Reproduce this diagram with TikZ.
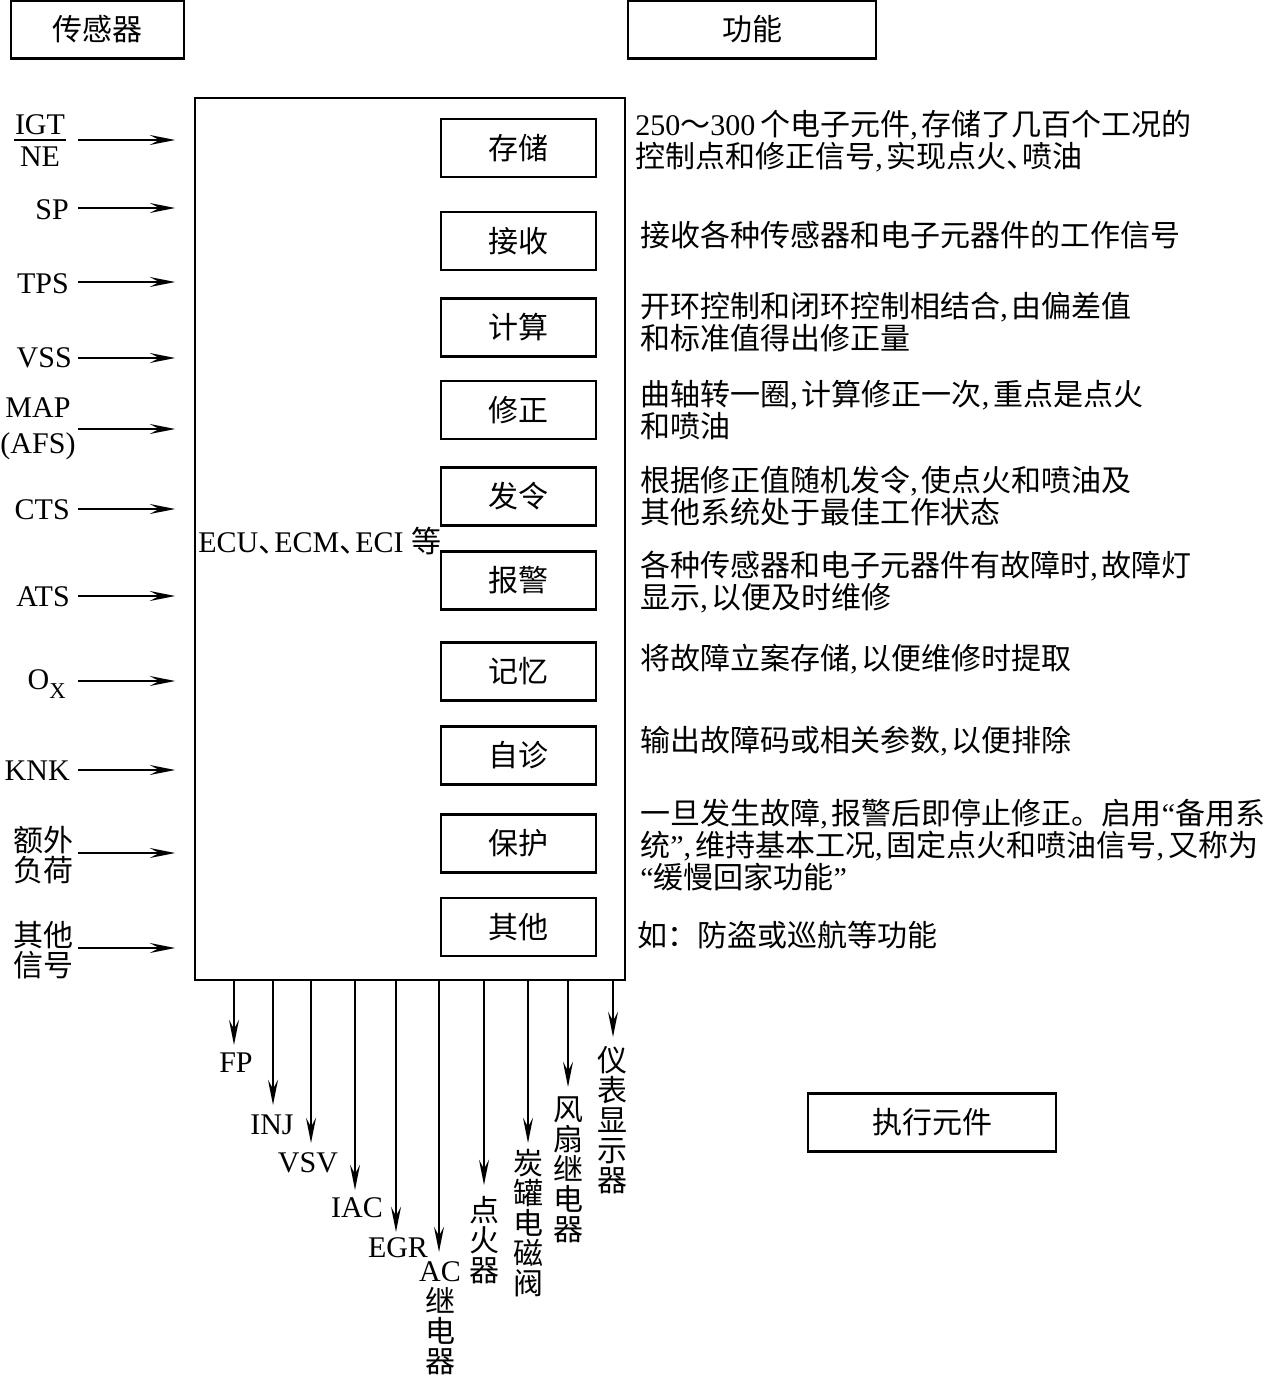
\documentclass[tikz,border=0pt]{standalone}
\usepackage{fontspec}
\setmainfont{Liberation Serif}
\newfontfamily\cjk{Noto Sans CJK SC}
\usetikzlibrary{arrows.meta}
\newcommand\zh[1]{{\cjk #1}}
\newcommand\cm{{\rmfamily,}\hspace{3pt}}
\newcommand\dun{\makebox[12pt][l]{\zh{、}}}
\begin{document}
\begin{tikzpicture}[x=0.75pt,y=-0.75pt,
  every node/.style={font=\fontsize{22.5}{24}\selectfont, inner sep=0pt},
  fbox/.style={draw, line width=1.6pt, minimum width=116.25pt, minimum height=43.5pt},
  hbox/.style={draw, line width=1.6pt, minimum height=43.5pt},
  arr/.style={line width=1.3pt, -{Stealth[length=19pt,width=7.5pt,inset=7pt]}},
  txt/.style={anchor=west, align=left},
  vtxt/.style={align=center, font=\fontsize{22.5}{22.5}\selectfont\cjk}]
\useasboundingbox (0,0) rectangle (1280,1376);
\fill[white] (0,0) rectangle (1280,1376);
% header boxes
\node[hbox, minimum width=129.75pt] (hsens) at (97.5,29.5) {\zh{传感器}};
\node[hbox, minimum width=186pt] (hfunc) at (752,29.5) {\zh{功能}};
\node[hbox, minimum width=186pt] (hact) at (932,1122.5) {\zh{执行元件}};
% ECU box
\node[draw, line width=1.8pt, minimum width=322.5pt, minimum height=661.5pt] (ecu) at (410,539) {};
\node[anchor=west] (ecutxt) at (198,541) {ECU\dun ECM\dun ECI \zh{等}};
% function boxes
\node[fbox] (f1) at (518.5,148) {\zh{存储}};
\node[fbox] (f2) at (518.5,241) {\zh{接收}};
\node[fbox] (f3) at (518.5,327.5) {\zh{计算}};
\node[fbox] (f4) at (518.5,410) {\zh{修正}};
\node[fbox] (f5) at (518.5,496.5) {\zh{发令}};
\node[fbox] (f6) at (518.5,580.5) {\zh{报警}};
\node[fbox] (f7) at (518.5,671.5) {\zh{记忆}};
\node[fbox] (f8) at (518.5,755.5) {\zh{自诊}};
\node[fbox] (f9) at (518.5,843.5) {\zh{保护}};
\node[fbox] (f10) at (518.5,927) {\zh{其他}};
% descriptions
\node[txt] (d1) at (635,141) {250\zh{～}300\,\zh{个电子元件}\cm\zh{存储了几百个工况的}\\\zh{控制点和修正信号}\cm\zh{实现点火}\dun\zh{喷油}};
\node[txt] (d2) at (640,235) {\zh{接收各种传感器和电子元器件的工作信号}};
\node[txt] (d3) at (640,322) {\zh{开环控制和闭环控制相结合}\cm\zh{由偏差值}\\\zh{和标准值得出修正量}};
\node[txt] (d4) at (640,410) {\zh{曲轴转一圈}\cm\zh{计算修正一次}\cm\zh{重点是点火}\\\zh{和喷油}};
\node[txt] (d5) at (640,496) {\zh{根据修正值随机发令}\cm\zh{使点火和喷油及}\\\zh{其他系统处于最佳工作状态}};
\node[txt] (d6) at (640,582) {\zh{各种传感器和电子元器件有故障时}\cm\zh{故障灯}\\\zh{显示}\cm\zh{以便及时维修}};
\node[txt] (d7) at (640,659) {\zh{将故障立案存储}\cm\zh{以便维修时提取}};
\node[txt] (d8) at (640,741) {\zh{输出故障码或相关参数}\cm\zh{以便排除}};
\node[txt] (d9) at (640,845) {\zh{一旦发生故障}\cm\zh{报警后即停止修正。启用}“\zh{备用系}\\\zh{统}”\cm\zh{维持基本工况}\cm\zh{固定点火和喷油信号}\cm\zh{又称为}\\“\zh{缓慢回家功能}”};
\node[txt] (d10) at (637,935) {\zh{如：防盗或巡航等功能}};
% sensor labels
\node (igt) at (40,125) {IGT};
\node (ne) at (40,157) {NE};
\draw[line width=1.2pt] (14,140) -- (66,140);
\node[anchor=east] (sp) at (69,210) {SP};
\node[anchor=east] (tps) at (69,284) {TPS};
\node[anchor=east] (vss) at (72,358) {VSS};
\node[align=center, font=\fontsize{22.5}{27}\selectfont] (map) at (38,429) {MAP\\(AFS)};
\node[anchor=east] (cts) at (70,510) {CTS};
\node[anchor=east] (ats) at (70,597) {ATS};
\node[anchor=east] (ox) at (66,684) {O\raisebox{-0.3em}{\fontsize{17}{17}\selectfont X}};
\node[anchor=east] (knk) at (70,771) {KNK};
\node[align=center, font=\fontsize{22.5}{22.5}\selectfont\cjk] (ew) at (43,855) {额外\\负荷};
\node[align=center, font=\fontsize{22.5}{22.5}\selectfont\cjk] (qt) at (43,950) {其他\\信号};
% input arrows
\foreach \y in {140,208,282,358,429,509,596,681,770,853,948}{
  \draw[arr] (78,\y) -- ([xshift=-14pt]ecu.west |- 0,\y);
}
% output arrows
\coordinate (o1) at (234,1045);
\coordinate (o2) at (273,1105);
\coordinate (o3) at (311,1143);
\coordinate (o4) at (355,1190);
\coordinate (o5) at (396,1232);
\coordinate (o6) at (439,1252);
\coordinate (o7) at (484,1185);
\coordinate (o8) at (528,1143);
\coordinate (o9) at (568,1087);
\coordinate (o10) at (613,1037);
\foreach \i in {1,...,10}{
  \draw[arr] (ecu.south -| o\i) -- (o\i);
}
% output labels
\node (fp) at (236,1063) {FP};
\node (inj) at (272,1125) {INJ};
\node (vsv) at (308,1163) {VSV};
\node (iac) at (357,1208) {IAC};
\node (egr) at (398,1248) {EGR};
\node (acl) at (440,1272) {AC};
\node[vtxt, anchor=north] (acz) at (440,1287) {继\\电\\器};
\node[vtxt] (dhq) at (484,1240) {点\\火\\器};
\node[vtxt] (tg) at (528,1223) {炭\\罐\\电\\磁\\阀};
\node[vtxt] (fs) at (568,1170) {风\\扇\\继\\电\\器};
\node[vtxt] (yb) at (612,1120) {仪\\表\\显\\示\\器};
\end{tikzpicture}
\end{document}
